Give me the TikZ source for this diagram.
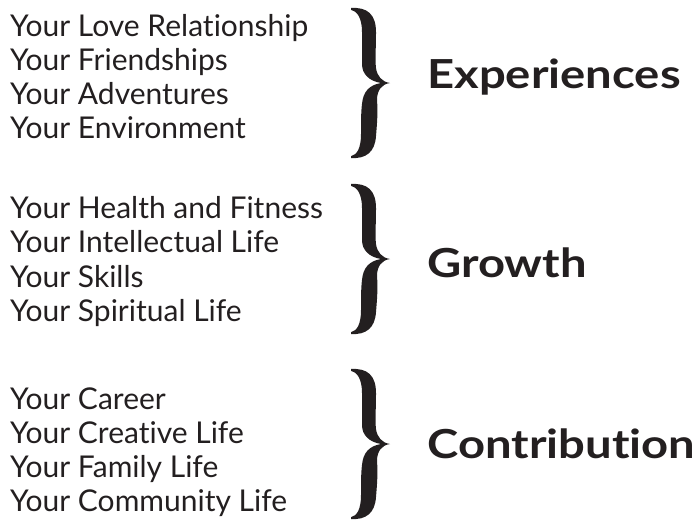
\documentclass[tikz,border=0pt]{standalone}
\usepackage{fontspec}
\setmainfont{Lato}[Ligatures={NoCommon}]
\definecolor{ink}{HTML}{231F20}
\tikzset{
  item/.style={anchor=base west, inner sep=0pt, text=ink, font=\fontsize{30}{34}\selectfont},
  cat/.style={anchor=base west, inner sep=0pt, text=ink, font=\fontsize{40}{44}\bfseries, xscale=1.18, transform shape},
  bracefill/.style={fill=ink}
}
\newcommand\curlybrace[3]{% left x, top y, bottom y
  \begin{scope}[shift={(#1,#2)}, yscale={(#3-#2)/150}]
    \fill[bracefill] (0,0)
      .. controls (16,-1) and (25,6) .. (25,24)
      .. controls (25,40) and (24,52) .. (25,60)
      .. controls (26,68) and (31,74) .. (39,75)
      .. controls (31,76) and (26,82) .. (26,92)
      .. controls (27,104) and (26,116) .. (25,128)
      .. controls (24,144) and (15,151) .. (0,150)
      -- (0,148.2)
      .. controls (6,147) and (10,140) .. (10,126)
      .. controls (10,114) and (10,104) .. (11,96)
      .. controls (12,84) and (18,77) .. (30,75)
      .. controls (18,73) and (11,66) .. (11,56)
      .. controls (11,46) and (11,36) .. (11,24)
      .. controls (11,10) and (6,3) .. (0,1.8)
      -- cycle;
  \end{scope}}
\begin{document}
\begin{tikzpicture}[x=1pt,y=-1pt]
\useasboundingbox (0,0) rectangle (700,522);
% group 1
\node[item] (a1) at (10,36) {Your Love Relationship};
\node[item] (a2) at (10,70) {Your Friendships};
\node[item] (a3) at (10,104) {Your Adventures};
\node[item] (a4) at (10,138) {Your Environment};
\curlybrace{351}{8}{158}
\node[cat] (ca) at (427,88) {Experiences};
% group 2
\node[item] (b1) at (10,218) {Your Health and Fitness};
\node[item] (b2) at (10,252) {Your Intellectual Life};
\node[item] (b3) at (10,287) {Your Skills};
\node[item] (b4) at (10,321) {Your Spiritual Life};
\curlybrace{351}{184}{334}
\node[cat] (cb) at (427,277) {Growth};
% group 3
\node[item] (c1) at (10,409) {Your Career};
\node[item] (c2) at (10,443) {Your Creative Life};
\node[item] (c3) at (10,477) {Your Family Life};
\node[item] (c4) at (10,511) {Your Community Life};
\curlybrace{351}{369}{519}
\node[cat] (cc) at (427,458) {Contribution};
\end{tikzpicture}
\end{document}
